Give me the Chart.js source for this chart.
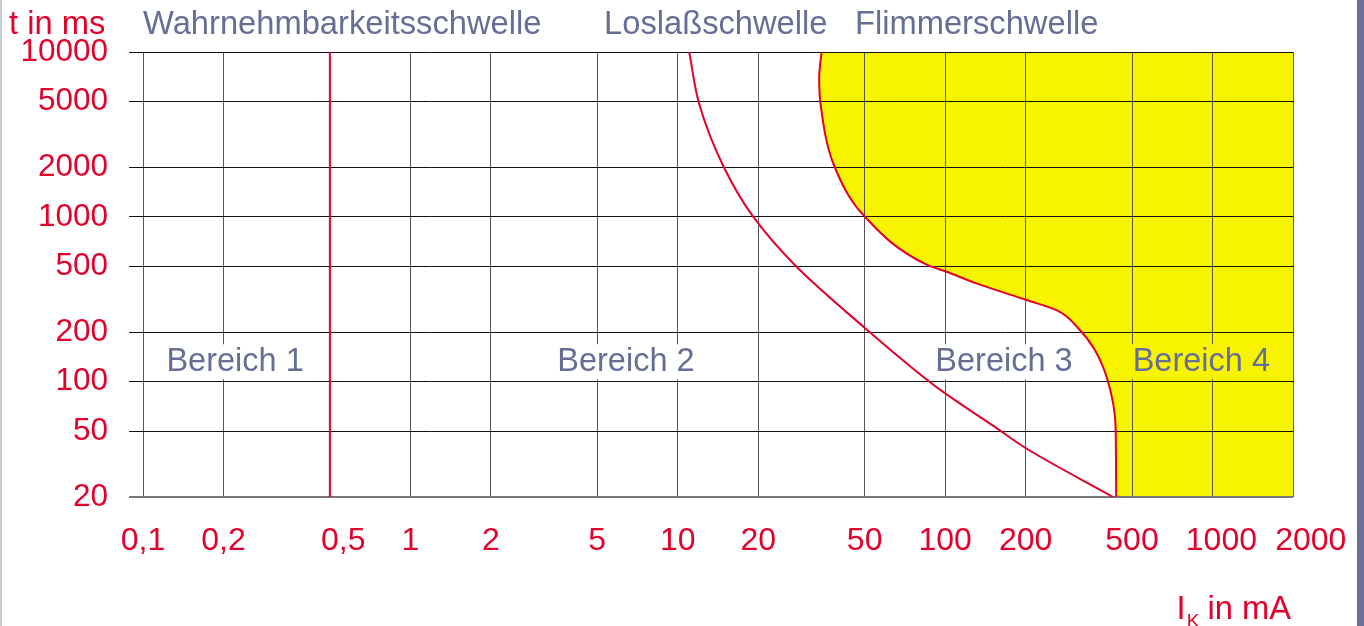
<!DOCTYPE html>
<html>
<head>
<meta charset="utf-8">
<script src="https://cdn.jsdelivr.net/npm/chart.js@4.4.1/dist/chart.umd.min.js"></script>
<style>
  html, body { margin: 0; padding: 0; background: #fff; }
  canvas { display: block; }
</style>
</head>
<body>
<canvas id="chart" width="1364" height="626"></canvas>
<script>
// Achsenteilung
const xTicks = [0.1, 0.2, 0.5, 1, 2, 5, 10, 20, 50, 100, 200, 500, 1000, 2000];
const yTicks = [20, 50, 100, 200, 500, 1000, 2000, 5000, 10000];

// Wahrnehmbarkeitsschwelle (senkrechte Linie bei 0,5 mA)
const perceptionI = [0.5, 0.5];
const perceptionT = [20, 10000];

// Loslaßschwelle
const letGoI = [11.04, 12.03, 14.8, 19.05, 27.4, 50.1, 85.7, 100.7, 153.5, 200.6, 425];
const letGoT = [10000, 4838, 2035, 1013, 511, 212, 102.6, 84.4, 53.2, 39.5, 20];

// Flimmerschwelle
const fibrI = [34.5, 33.8, 34.2, 38.5, 49.8, 85.7, 100.7, 131, 201.7, 261, 314, 363, 405, 434, 436];
const fibrT = [10000, 6955, 4838, 2035, 1013, 511, 466, 395, 313, 272, 212, 156, 102.6, 53.2, 20];

const RED = '#e3002b';
const SLATE = '#666e96';
const YELLOW = '#f8f400';
const FONT = '"Liberation Sans", Arial, sans-serif';

function toPoints(xs, ys) {
    return xs.map((x, i) => ({ x: x, y: ys[i] }));
}

const textPlugin = {
    id: 'texts',
    afterDatasetsDraw(chart) {
        const ctx = chart.ctx;
        const xs = chart.scales.x, ys = chart.scales.y;
        ctx.save();
        // Bereich-Beschriftungen mit Hintergrund
        ctx.font = '32.5px ' + FONT;
        ctx.textBaseline = 'middle';
        ctx.textAlign = 'center';
        const areas = [
            { text: 'Bereich 1', x: 0.221, bg: '#fff' },
            { text: 'Bereich 2', x: 6.4, bg: '#fff' },
            { text: 'Bereich 3', x: 166, bg: '#fff' },
            { text: 'Bereich 4', x: 908, bg: YELLOW }
        ];
        areas.forEach(a => {
            const px = xs.getPixelForValue(a.x);
            const py = ys.getPixelForValue(135) + 2;
            const w = ctx.measureText(a.text).width;
            ctx.fillStyle = a.bg;
            ctx.fillRect(px - w / 2 - 2, py - 18, w + 4, 35);
            ctx.fillStyle = SLATE;
            ctx.fillText(a.text, px, py);
        });
        ctx.restore();
    },
    afterDraw(chart) {
        const ctx = chart.ctx;
        const xs = chart.scales.x;
        ctx.save();
        ctx.font = '32.7px ' + FONT;
        ctx.textBaseline = 'middle';
        ctx.textAlign = 'left';
        ctx.fillStyle = RED;
        ctx.fillText('t in ms', 9, 25);
        ctx.fillStyle = SLATE;
        ctx.fillText('Wahrnehmbarkeitsschwelle', xs.getPixelForValue(0.1), 25);
        ctx.fillText('Loslaßschwelle', xs.getPixelForValue(5.3), 25);
        ctx.fillText('Flimmerschwelle', xs.getPixelForValue(46), 25);

        // Achsentitel unten rechts
        ctx.textBaseline = 'alphabetic';
        ctx.fillStyle = RED;
        ctx.textAlign = 'right';
        const right = chart.chartArea.right - 2;
        ctx.fillText('in mA', right, 619);
        const w1 = ctx.measureText(' in mA').width;
        ctx.font = '19px ' + FONT;
        const wK = ctx.measureText('K').width;
        ctx.fillText('K', right - w1 + 1, 627);
        ctx.font = '32.7px ' + FONT;
        ctx.fillText('I', right - w1 - wK, 619);

        // Rahmen
        ctx.fillStyle = '#c8cad8';
        ctx.fillRect(0, 0, 2, 626);
        ctx.fillStyle = '#6b7196';
        ctx.fillRect(1357, 0, 7, 626);
        ctx.restore();
    }
};

// leichte Verschiebung einzelner Beschriftungen wie im Original
const labelShift = { 0.5: '   ', 1000: '  ', 2000: '    ' };

new Chart(document.getElementById('chart').getContext('2d'), {
    type: 'scatter',
    data: {
        datasets: [{
            label: 'Flimmerschwelle',
            data: toPoints(fibrI, fibrT),
            showLine: true,
            cubicInterpolationMode: 'monotone',
            indexAxis: 'y',
            borderColor: RED,
            borderWidth: 2,
            backgroundColor: YELLOW,
            fill: { value: 2000 },
            pointRadius: 0
        }, {
            label: 'Loslaßschwelle',
            data: toPoints(letGoI, letGoT),
            showLine: true,
            cubicInterpolationMode: 'monotone',
            indexAxis: 'y',
            borderColor: RED,
            borderWidth: 2,
            fill: false,
            pointRadius: 0
        }, {
            label: 'Wahrnehmbarkeitsschwelle',
            data: toPoints(perceptionI, perceptionT),
            showLine: true,
            borderColor: RED,
            borderWidth: 2,
            fill: false,
            pointRadius: 0
        }]
    },
    options: {
        responsive: false,
        animation: false,
        layout: { padding: { left: 0, top: 52, right: 71, bottom: 0 } },
        plugins: {
            legend: { display: false },
            tooltip: { enabled: false },
            filler: { drawTime: 'beforeDraw' }
        },
        scales: {
            x: {
                type: 'logarithmic',
                min: 0.1,
                max: 2000,
                afterBuildTicks: s => { s.ticks = xTicks.map(v => ({ value: v })); },
                afterFit: s => { s.height = 129; s.paddingLeft = 0; s.paddingRight = 0; },
                border: { display: false },
                grid: { color: '#555', lineWidth: 1, drawTicks: false },
                ticks: {
                    color: RED,
                    font: { family: FONT, size: 32 },
                    padding: 25,
                    maxRotation: 0,
                    autoSkip: false,
                    callback: v => (labelShift[v] || '') + String(v).replace('.', ',')
                }
            },
            y: {
                type: 'logarithmic',
                min: 20,
                max: 10000,
                afterBuildTicks: s => { s.ticks = yTicks.map(v => ({ value: v })); },
                afterFit: s => { s.width = 143; },
                border: { display: false },
                grid: {
                    color: c => (c.tick && c.tick.value === 20) ? '#777' : '#111',
                    lineWidth: c => (c.tick && c.tick.value === 20) ? 2 : 1,
                    tickLength: 14
                },
                ticks: {
                    color: RED,
                    font: { family: FONT, size: 31.5 },
                    padding: 21,
                    autoSkip: false,
                    callback: v => String(v)
                }
            }
        }
    },
    plugins: [textPlugin]
});
</script>
</body>
</html>
